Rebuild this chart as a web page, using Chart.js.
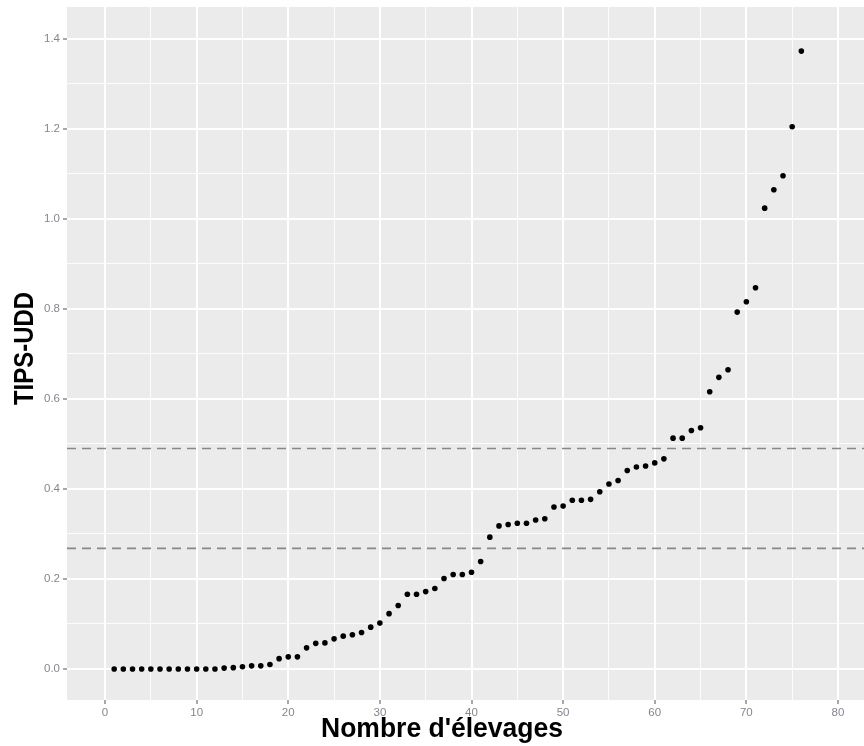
<!DOCTYPE html>
<html>
<head>
<meta charset="utf-8">
<script src="https://cdn.jsdelivr.net/npm/chart.js@4.4.0/dist/chart.umd.min.js"></script>
<style>
  html, body { margin: 0; padding: 0; background: #ffffff; }
  #wrap { width: 864px; height: 746px; position: relative; }
</style>
</head>
<body>
<div id="wrap"><canvas id="c" width="864" height="746"></canvas></div>
<script>
// ---- data ----
const xValues = Array.from({length: 76}, (_, i) => i + 1);
const tipsUdd = [0,0,0,0,0,0,0,0,0,0,0,0,
  0.002,0.003,0.005,0.007,0.007,0.010,0.023,0.027,0.027,0.047,0.057,0.058,0.067,0.073,
  0.076,0.081,0.093,0.102,0.123,0.141,0.166,0.166,0.172,0.179,0.201,0.210,0.210,0.215,
  0.239,0.293,0.318,0.321,0.324,0.324,0.331,0.334,0.360,0.362,0.375,0.375,0.377,0.394,
  0.411,0.419,0.441,0.449,0.451,0.458,0.467,0.513,0.513,0.530,0.536,0.616,0.648,0.665,
  0.793,0.816,0.847,1.024,1.065,1.096,1.205,1.373];
const thresholds = [0.268, 0.490];
const xMajorTicks = [0,10,20,30,40,50,60,70,80];
const xMinorTicks = [5,15,25,35,45,55,65,75];
const yMajorTicks = [0,0.2,0.4,0.6,0.8,1.0,1.2,1.4];
const yMinorTicks = [0.1,0.3,0.5,0.7,0.9,1.1,1.3];
const xLimits = [-4.15, 82.84];
const yLimits = [-0.0689, 1.471];
const xTitle = "Nombre d'élevages";
const yTitle = "TIPS-UDD";

const points = xValues.map((x, i) => ({x: x, y: tipsUdd[i]}));
const thresholdSets = thresholds.map(t => ({
  type: 'line',
  data: [{x: xLimits[0], y: t}, {x: xLimits[1], y: t}],
  borderColor: '#888888',
  borderWidth: 1.7,
  borderDash: [9, 6],
  pointRadius: 0,
  fill: false,
  order: 2
}));

function isMajor(list, v) { return list.some(m => Math.abs(m - v) < 1e-6); }

const panelBg = {
  id: 'panelBg',
  beforeDraw(chart) {
    const {ctx, chartArea: a} = chart;
    ctx.save();
    ctx.fillStyle = '#EBEBEB';
    ctx.fillRect(a.left, a.top, a.right - a.left, a.bottom - a.top);
    ctx.restore();
  }
};

const titles = {
  id: 'titles',
  afterDraw(chart) {
    const ctx = chart.ctx;
    ctx.save();
    ctx.fillStyle = '#000000';
    ctx.font = 'bold 28px "Liberation Sans", Arial, sans-serif';
    ctx.textBaseline = 'alphabetic';
    ctx.textAlign = 'center';
    let w = ctx.measureText(xTitle).width;
    ctx.save();
    ctx.translate(442, 737);
    ctx.scale(242 / w, 1);
    ctx.fillText(xTitle, 0, 0);
    ctx.restore();
    w = ctx.measureText(yTitle).width;
    ctx.save();
    ctx.translate(33, 348.5);
    ctx.rotate(-Math.PI / 2);
    ctx.scale(113 / w, 1);
    ctx.fillText(yTitle, 0, 0);
    ctx.restore();
    ctx.restore();
  }
};

new Chart(document.getElementById('c'), {
  type: 'scatter',
  data: {
    datasets: [
      {
        data: points,
        backgroundColor: '#000000',
        borderColor: '#000000',
        pointRadius: 2.8,
        pointHoverRadius: 2.8,
        borderWidth: 0,
        order: 1
      },
      ...thresholdSets
    ]
  },
  options: {
    responsive: false,
    animation: false,
    events: [],
    layout: { autoPadding: false, padding: { top: 7, right: 0, left: 0, bottom: 0 } },
    plugins: { legend: { display: false }, tooltip: { enabled: false } },
    scales: {
      x: {
        type: 'linear',
        min: xLimits[0],
        max: xLimits[1],
        afterBuildTicks(scale) {
          scale.ticks = [...xMajorTicks, ...xMinorTicks].sort((a, b) => a - b).map(v => ({value: v}));
        },
        afterFit(scale) { scale.height = 46; scale.paddingLeft = 0; scale.paddingRight = 0; },
        border: { display: false },
        grid: {
          color: ctx => isMajor(xMajorTicks, ctx.tick.value) ? '#ffffff' : 'rgba(255,255,255,0.85)',
          lineWidth: ctx => isMajor(xMajorTicks, ctx.tick.value) ? 2 : 1,
          tickColor: ctx => isMajor(xMajorTicks, ctx.tick.value) ? '#6e6e6e' : 'rgba(0,0,0,0)',
          tickWidth: 1.2,
          tickLength: 4,
          drawTicks: true
        },
        ticks: {
          autoSkip: false,
          maxRotation: 0,
          padding: 2,
          color: '#85868f',
          font: { family: '"Liberation Sans", Arial, sans-serif', size: 11.5 },
          callback: v => isMajor(xMajorTicks, v) ? String(v) : ''
        }
      },
      y: {
        type: 'linear',
        min: yLimits[0],
        max: yLimits[1],
        afterBuildTicks(scale) {
          scale.ticks = [...yMajorTicks, ...yMinorTicks].sort((a, b) => a - b).map(v => ({value: v}));
        },
        afterFit(scale) { scale.width = 67; scale.paddingTop = 0; scale.paddingBottom = 0; },
        border: { display: false },
        grid: {
          color: ctx => isMajor(yMajorTicks, ctx.tick.value) ? '#ffffff' : 'rgba(255,255,255,0.85)',
          lineWidth: ctx => isMajor(yMajorTicks, ctx.tick.value) ? 2 : 1,
          tickColor: ctx => isMajor(yMajorTicks, ctx.tick.value) ? '#6e6e6e' : 'rgba(0,0,0,0)',
          tickWidth: 1.2,
          tickLength: 4,
          drawTicks: true
        },
        ticks: {
          autoSkip: false,
          padding: 3,
          color: '#85868f',
          font: { family: '"Liberation Sans", Arial, sans-serif', size: 11.5 },
          callback: v => isMajor(yMajorTicks, v) ? Number(v).toFixed(1) : ''
        }
      }
    }
  },
  plugins: [panelBg, titles]
});
</script>
</body>
</html>
